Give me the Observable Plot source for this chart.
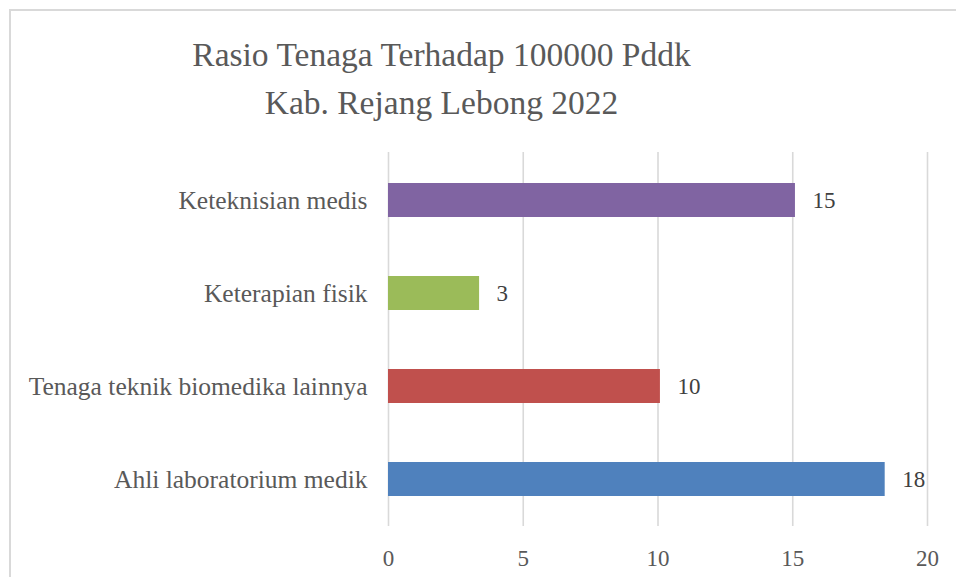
<!DOCTYPE html>
<html>
<head>
<meta charset="utf-8">
<script src="https://cdn.jsdelivr.net/npm/d3@7"></script>
<script src="https://cdn.jsdelivr.net/npm/@observablehq/plot@0.6"></script>
<style>
  html, body { margin: 0; padding: 0; width: 956px; height: 577px; overflow: hidden; background: #fff; }
  #wrap { position: relative; width: 956px; height: 577px; }
  #frame { position: absolute; left: 9px; top: 9px; width: 1100px; height: 700px;
           border-left: 2px solid #d9d9d9; border-top: 2px solid #d9d9d9; z-index: 2; pointer-events: none; }
  #title { position: absolute; left: 0; top: 31px; width: 883px; text-align: center;
           font-family: "Liberation Serif", serif; font-size: 33.5px; line-height: 48px; color: #595959; z-index: 3; }
  #chart { position: absolute; left: 0; top: 130px; }
</style>
</head>
<body>
<div id="wrap">
  <div id="frame"></div>
  <div id="title">Rasio Tenaga Terhadap 100000 Pddk<br>Kab. Rejang Lebong 2022</div>
  <div id="chart"></div>
</div>
<script>
const categories = ["Keteknisian medis", "Keterapian fisik", "Tenaga teknik biomedika lainnya", "Ahli laboratorium medik"];
const values = [15.1, 3.38, 10.09, 18.43];
const colors = ["#8064a2", "#9bbb59", "#c0504d", "#4f81bd"];
const xTicks = [0, 5, 10, 15, 20];

const data = categories.map((c, i) => ({category: c, value: values[i], color: colors[i], label: String(Math.round(values[i]))}));

const chart = Plot.plot({
  width: 956,
  height: 447,
  marginLeft: 388,
  marginRight: 29,
  marginTop: 22,
  marginBottom: 51,
  style: {fontFamily: "Liberation Serif, serif", color: "#595959", background: "transparent", overflow: "visible"},
  x: {domain: [0, 20], ticks: xTicks},
  y: {domain: categories, paddingInner: 0.636, paddingOuter: 0.318},
  marks: [
    Plot.gridX(xTicks, {stroke: "#d9d9d9", strokeOpacity: 1, strokeWidth: 1.6}),
    Plot.barX(data, {x: "value", y: "category", fill: "color"}),
    Plot.text(data, {x: "value", y: "category", text: "label", dx: 17, textAnchor: "start", fontSize: 23, fill: "#404040"}),
    Plot.axisX(xTicks, {tickSize: 0, tickPadding: 23, fontSize: 23, label: null, tickFormat: d => String(d)}),
    Plot.axisY({tickSize: 0, tickPadding: 21, fontSize: 25.5, label: null})
  ]
});
document.getElementById("chart").appendChild(chart);
</script>
</body>
</html>
